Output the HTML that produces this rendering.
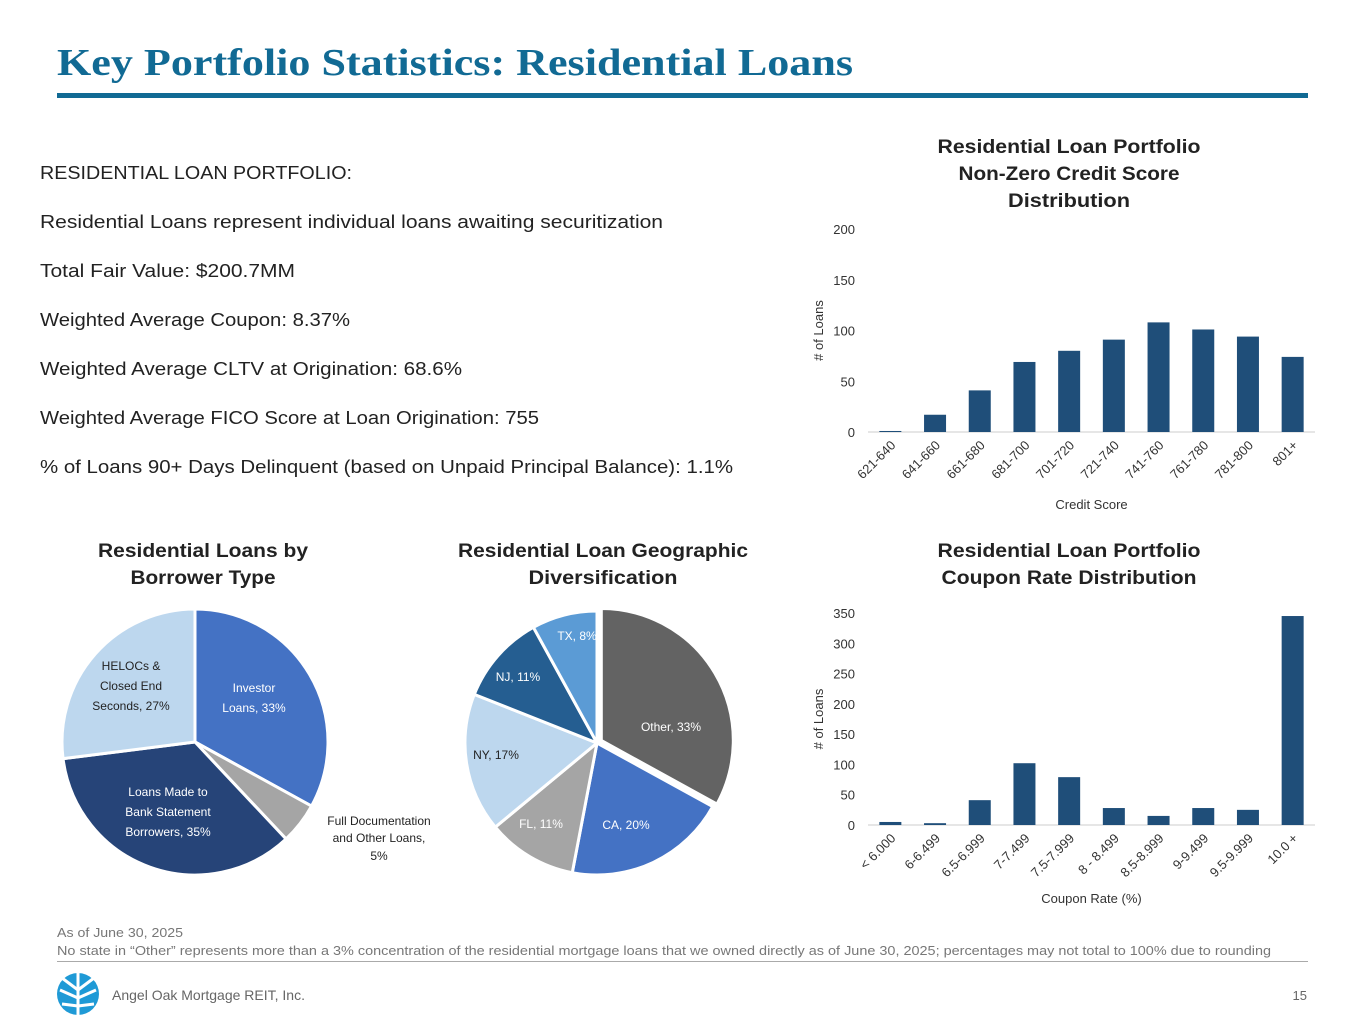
<!DOCTYPE html>
<html><head><meta charset="utf-8"><style>
html,body{margin:0;padding:0;background:#fff;}
svg{display:block;font-family:"Liberation Sans",sans-serif;}
</style></head><body>
<svg id="page" width="1365" height="1024" viewBox="0 0 1365 1024">
<text x="57" y="75" font-family="Liberation Serif,serif" font-weight="bold" font-size="38" fill="#116a94" textLength="796" lengthAdjust="spacingAndGlyphs">Key Portfolio Statistics: Residential Loans</text>
<rect x="57" y="93" width="1251" height="5" fill="#116a94"/>
<g font-size="18" fill="#222">
<text x="40" y="179" textLength="312" lengthAdjust="spacingAndGlyphs">RESIDENTIAL LOAN PORTFOLIO:</text>
<text x="40" y="228" textLength="623" lengthAdjust="spacingAndGlyphs">Residential Loans represent individual loans awaiting securitization</text>
<text x="40" y="277" textLength="255" lengthAdjust="spacingAndGlyphs">Total Fair Value: $200.7MM</text>
<text x="40" y="326" textLength="310" lengthAdjust="spacingAndGlyphs">Weighted Average Coupon: 8.37%</text>
<text x="40" y="375" textLength="422" lengthAdjust="spacingAndGlyphs">Weighted Average CLTV at Origination: 68.6%</text>
<text x="40" y="424" textLength="499" lengthAdjust="spacingAndGlyphs">Weighted Average FICO Score at Loan Origination: 755</text>
<text x="40" y="473" textLength="693" lengthAdjust="spacingAndGlyphs">% of Loans 90+ Days Delinquent (based on Unpaid Principal Balance): 1.1%</text>
</g>
<g font-size="19" font-weight="bold" fill="#222" text-anchor="middle" lengthAdjust="spacingAndGlyphs">
<text x="1069" y="153" textLength="263" lengthAdjust="spacingAndGlyphs">Residential Loan Portfolio</text>
<text x="1069" y="180" textLength="221" lengthAdjust="spacingAndGlyphs">Non-Zero Credit Score</text>
<text x="1069" y="207" textLength="122" lengthAdjust="spacingAndGlyphs">Distribution</text>
<text x="1069" y="557" textLength="263" lengthAdjust="spacingAndGlyphs">Residential Loan Portfolio</text>
<text x="1069" y="584" textLength="255" lengthAdjust="spacingAndGlyphs">Coupon Rate Distribution</text>
<text x="203" y="557" textLength="210" lengthAdjust="spacingAndGlyphs">Residential Loans by</text>
<text x="203" y="584" textLength="145" lengthAdjust="spacingAndGlyphs">Borrower Type</text>
<text x="603" y="557" textLength="290" lengthAdjust="spacingAndGlyphs">Residential Loan Geographic</text>
<text x="603" y="584" textLength="149" lengthAdjust="spacingAndGlyphs">Diversification</text>
</g>
<g id="credit"></g>
<g id="coupon"></g>
<g id="pie1"></g>
<g id="pie2"></g>
<g font-size="12" fill="#222" text-anchor="middle">
<text x="379" y="825">Full Documentation</text><text x="379" y="842">and Other Loans,</text><text x="379" y="860">5%</text>
</g>
<text x="57" y="937" font-size="13" fill="#777" textLength="126" lengthAdjust="spacingAndGlyphs">As of June 30, 2025</text>
<text x="57" y="955" font-size="13" fill="#777" textLength="1214" lengthAdjust="spacingAndGlyphs">No state in “Other” represents more than a 3% concentration of the residential mortgage loans that we owned directly as of June 30, 2025; percentages may not total to 100% due to rounding</text>
<rect x="57" y="961" width="1251" height="1" fill="#aaa"/>
<g>
<circle cx="78" cy="994" r="21" fill="#1f9ad6"/>
<path d="M78 973 V1015 M78 990 L62 978 M78 998 L60 990 M78 1006 L62 1004 M78 990 L94 978 M78 998 L96 990 M78 1006 L94 1004" stroke="#fff" stroke-width="3" fill="none"/>
</g>
<text x="112" y="1000" font-size="14" fill="#666">Angel Oak Mortgage REIT, Inc.</text>
<text x="1307" y="1000" font-size="13" fill="#666" text-anchor="end">15</text>
</svg>
<script>
const NS="http://www.w3.org/2000/svg";
const creditCats=["621-640","641-660","661-680","681-700","701-720","721-740","741-760","761-780","781-800","801+"];
const creditVals=[1,17,41,69,80,91,108,101,94,74];
const creditTicks=[0,50,100,150,200];
const couponCats=["< 6.000","6-6.499","6.5-6.999","7-7.499","7.5-7.999","8 - 8.499","8.5-8.999","9-9.499","9.5-9.999","10.0 +"];
const couponVals=[5,3,41,102,79,28,15,28,25,345];
const couponTicks=[0,50,100,150,200,250,300,350];
const borrowerLabels=["Investor Loans, 33%","Full Documentation and Other Loans, 5%","Loans Made to Bank Statement Borrowers, 35%","HELOCs & Closed End Seconds, 27%"];
const borrowerVals=[33,5,35,27];
const geoLabels=["Other, 33%","CA, 20%","FL, 11%","NY, 17%","NJ, 11%","TX, 8%"];
const geoVals=[33,20,11,17,11,8];

function el(tag,attrs,parent,txt){const e=document.createElementNS(NS,tag);for(const k in attrs)e.setAttribute(k,attrs[k]);if(txt!==undefined)e.textContent=txt;parent.appendChild(e);return e;}

function barChart(g,cats,vals,ticks,maxV,x0,x1,y0,yTop,xTitle,xTitleY){
  const band=(x1-x0)/cats.length;
  const y=v=>y0-(v/maxV)*(y0-yTop);
  ticks.forEach(t=>{
    const tx=el('text',{x:x0-13,y:y(t)+5,'font-size':13,fill:'#333','text-anchor':'end'},g,t);
    
    
  });
  const ax=el('line',{x1:x0,x2:x1,y1:y0,y2:y0,stroke:'#ccc','stroke-width':1},g);
  
  
  cats.forEach((c,i)=>{
    const cx=x0+band*(i+0.5);
    const r=el('rect',{x:cx-11,y:y(vals[i]),width:22,height:y0-y(vals[i]),fill:'#1f4e79'},g);
    
    
    const lx=cx+6,ly=y0+14;
    const t=el('text',{x:lx,y:ly,'font-size':13,fill:'#333','text-anchor':'end',transform:`rotate(-45 ${lx} ${ly})`},g,c);
    
    
  });
  const xt=el('text',{x:(x0+x1)/2,y:xTitleY,'font-size':13,fill:'#333','text-anchor':'middle'},g,xTitle);
  
  
  const ym=(y0+yTop)/2, yx=x0-45;
  const yt=el('text',{x:yx,y:ym,'font-size':13,fill:'#333','text-anchor':'middle',transform:`rotate(-90 ${yx} ${ym})`},g,'# of Loans');
  
  
}
barChart(document.getElementById('credit'),creditCats,creditVals,creditTicks,200,868,1315,432,229,'Credit Score',509);
barChart(document.getElementById('coupon'),couponCats,couponVals,couponTicks,350,868,1315,825,613,'Coupon Rate (%)',903);

function pie(g,vals,labels,colors,cx,cy,r,explode,labelPos,labelColors){
  const tot=vals.reduce((a,b)=>a+b,0);let a=0;
  vals.forEach((v,i)=>{
    const a0=a/tot*2*Math.PI, a1=(a+v)/tot*2*Math.PI; a+=v;
    const mid=(a0+a1)/2, off=explode[i]||0;
    const ox=cx+off*Math.sin(mid), oy=cy-off*Math.cos(mid);
    const p0=[ox+r*Math.sin(a0),oy-r*Math.cos(a0)],p1=[ox+r*Math.sin(a1),oy-r*Math.cos(a1)];
    const large=(a1-a0)>Math.PI?1:0;
    const p=el('path',{d:`M${ox},${oy} L${p0[0]},${p0[1]} A${r},${r} 0 ${large} 1 ${p1[0]},${p1[1]} Z`,fill:colors[i],stroke:'#fff','stroke-width':3},g);
    
    
    if(labelPos[i]){
      const lines=labelPos[i].lines;
      const t=el('text',{'font-size':12,fill:labelColors[i],'text-anchor':'middle'},g);
      
      
      lines.forEach((ln,k)=>el('tspan',{x:labelPos[i].x,y:labelPos[i].y+k*20},t,ln));
    }
  });
}
pie(document.getElementById('pie1'),borrowerVals,borrowerLabels,['#4472c4','#a5a5a5','#264478','#bdd7ee'],195,742,133,[0,0,0,0],
 [{x:254,y:692,lines:['Investor','Loans, 33%']},null,{x:168,y:796,lines:['Loans Made to','Bank Statement','Borrowers, 35%']},{x:131,y:670,lines:['HELOCs &','Closed End','Seconds, 27%']}],
 ['#fff','#fff','#fff','#222']);
pie(document.getElementById('pie2'),geoVals,geoLabels,['#636363','#4472c4','#a5a5a5','#bdd7ee','#255e91','#5b9bd5'],597,743,132,[5,0,0,0,0,0],
 [{x:671,y:731,lines:['Other, 33%']},{x:626,y:829,lines:['CA, 20%']},{x:541,y:828,lines:['FL, 11%']},{x:496,y:759,lines:['NY, 17%']},{x:518,y:681,lines:['NJ, 11%']},{x:577,y:640,lines:['TX, 8%']}],
 ['#fff','#fff','#fff','#222','#fff','#fff']);
</script>
</body></html>
